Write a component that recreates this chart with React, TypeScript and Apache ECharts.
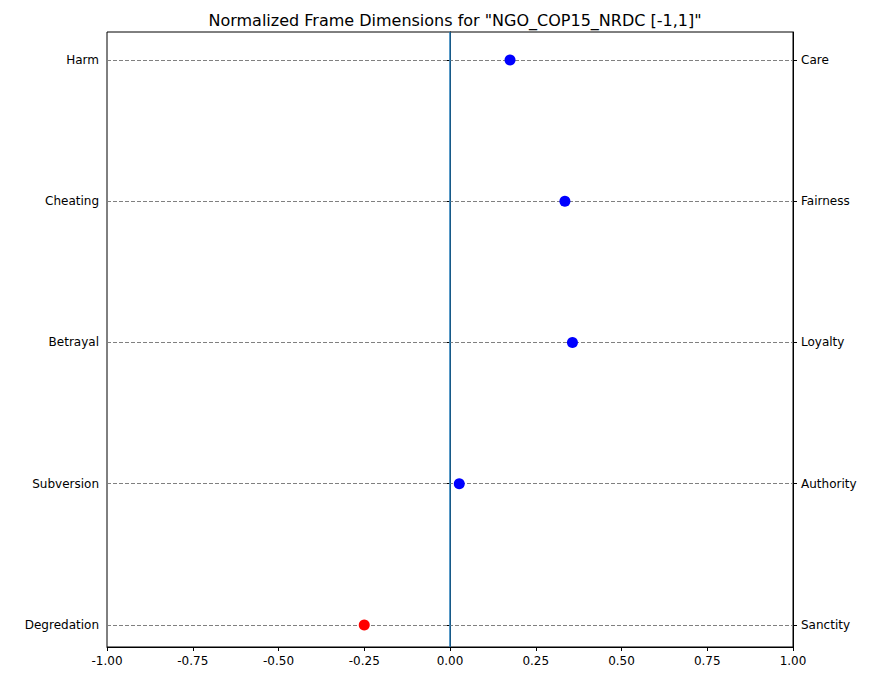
import React, { useEffect, useRef } from "react";
import * as echarts from "echarts";

const leftLabels = ["Degredation", "Subversion", "Betrayal", "Cheating", "Harm"];
const rightLabels = ["Sanctity", "Authority", "Loyalty", "Fairness", "Care"];
const values = [-0.25, 0.027, 0.357, 0.335, 0.175];

export default function App() {
  const ref = useRef<HTMLDivElement>(null);
  useEffect(() => {
    const chart = echarts.init(ref.current!, null, { renderer: "svg" });
    const idx = [0, 1, 2, 3, 4];
    const yAxisBase = {
      type: "value",
      min: -0.156,
      max: 4.198,
      axisLine: { show: true, lineStyle: { color: "#000" } },
      axisTick: { show: true, customValues: idx, length: 4, lineStyle: { color: "#000" } },
      splitLine: { show: false },
    };
    chart.setOption({
      animation: false,
      title: {
        text: 'Normalized Frame Dimensions for "NGO_COP15_NRDC [-1,1]"',
        left: 450,
        textAlign: "center",
        top: 7,
        textStyle: { fontSize: 16, fontWeight: "normal", color: "#000", fontFamily: "DejaVu Sans" },
      },
      grid: { left: 107, right: 84, top: 32, bottom: 40, show: true, borderColor: "#000", borderWidth: 1, backgroundColor: "transparent" },
      xAxis: {
        type: "value",
        min: -1,
        max: 1,
        interval: 0.25,
        axisLine: { onZero: false, lineStyle: { color: "#000" } },
        axisTick: { show: true, length: 4, lineStyle: { color: "#000" } },
        axisLabel: { color: "#000", fontSize: 12, fontFamily: "DejaVu Sans", formatter: (v: number) => v.toFixed(2) },
        splitLine: { show: false },
      },
      yAxis: [
        {
          ...yAxisBase,
          position: "left",
          axisLabel: { customValues: idx, color: "#000", fontSize: 12, fontFamily: "DejaVu Sans", formatter: (v: number) => leftLabels[Math.round(v)] },
        },
        {
          ...yAxisBase,
          position: "right",
          axisLabel: { customValues: idx, color: "#000", fontSize: 12, fontFamily: "DejaVu Sans", formatter: (v: number) => rightLabels[Math.round(v)] },
        },
      ],
      series: [
        {
          type: "scatter",
          symbolSize: 11,
          data: values.map((v, i) => ({ value: [v, i], itemStyle: { color: v < 0 ? "#ff0000" : "#0000ff", opacity: 1 } })),
          z: 5,
          markLine: {
            silent: true,
            symbol: "none",
            label: { show: false },
            data: [
              ...idx.map((i) => ({ yAxis: i, lineStyle: { type: "dashed", color: "#808080", width: 1, opacity: 1 } })),
              { xAxis: 0, lineStyle: { type: "solid", color: "#1f77b4", width: 1.5, opacity: 1 } },
            ],
          },
        },
      ],
    });
    return () => chart.dispose();
  }, []);
  return <div ref={ref} style={{ position: "fixed", left: 0, top: 0, width: 877, height: 687, background: "#fff" }} />;
}
